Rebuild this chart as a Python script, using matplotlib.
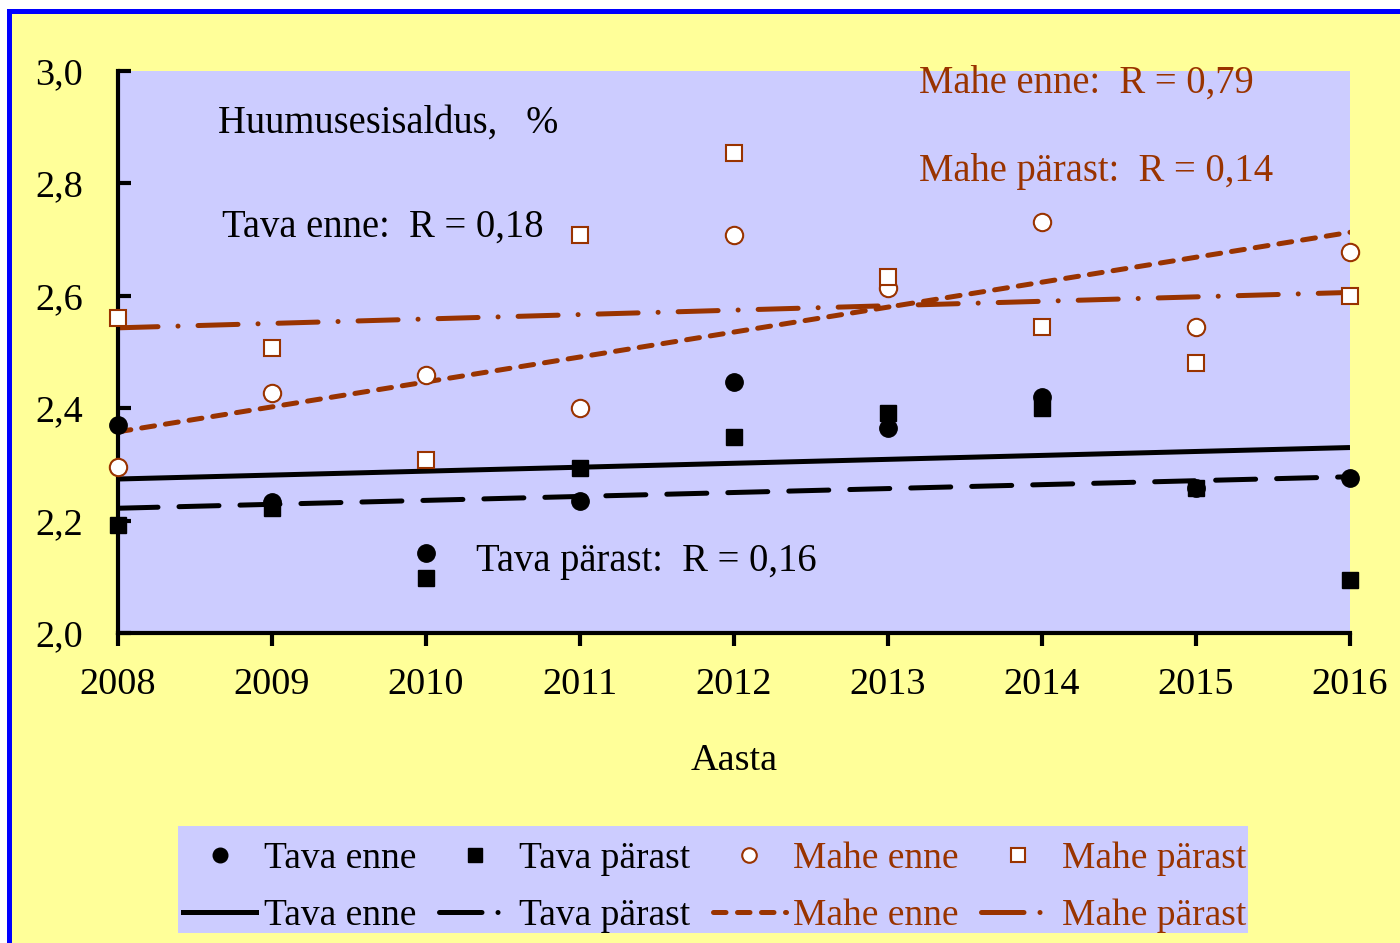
"""Huumusesisaldus (%) 2008-2016: tava vs mahe, enne / pärast, with linear trends."""

import matplotlib.pyplot as plt
from matplotlib.lines import Line2D
from matplotlib.patches import Rectangle

plt.rcParams["font.family"] = ["Liberation Serif", "DejaVu Serif"]

years = [2008, 2009, 2010, 2011, 2012, 2013, 2014, 2015, 2016]

tava_enne = [2.370, 2.233, 2.142, 2.235, 2.447, 2.365, 2.420, 2.258, 2.276]
tava_parast = [2.192, 2.222, 2.098, 2.294, 2.349, 2.391, 2.400, 2.258, 2.094]
mahe_enne = [2.295, 2.427, 2.459, 2.400, 2.708, 2.614, 2.731, 2.545, 2.678]
mahe_parast = [2.560, 2.507, 2.308, 2.708, 2.854, 2.633, 2.545, 2.480, 2.600]

# trend lines at 2008 and 2016
trend_x = [2008, 2016]
trend_tava_enne = [2.274, 2.330]
trend_tava_parast = [2.222, 2.278]
trend_mahe_enne = [2.358, 2.713]
trend_mahe_parast = [2.543, 2.606]

RUST = "#993300"
YELLOW = "#FFFF99"
LAVENDER = "#CCCCFF"

fig = plt.figure(figsize=(14, 9.43), dpi=100)
fig.patch.set_facecolor("white")
W, H = 1400, 943
fig.add_artist(Rectangle((7 / W, 0), 1, 1 - 9 / H, transform=fig.transFigure,
                         facecolor="#0000FF", edgecolor="none", zorder=-3))
fig.add_artist(Rectangle((12 / W, 0), 1, 1 - 14 / H, transform=fig.transFigure,
                         facecolor=YELLOW, edgecolor="none", zorder=-2))
# legend box
fig.add_artist(Rectangle((178 / W, 1 - 933 / H), (1248 - 178) / W, (933 - 826) / H,
                         transform=fig.transFigure, facecolor=LAVENDER,
                         edgecolor="none", zorder=-1))

ax = fig.add_axes([118 / W, 1 - 633 / H, (1350 - 118) / W, (633 - 71) / H])
ax.set_facecolor(LAVENDER)
ax.set_xlim(2008, 2016)
ax.set_ylim(2.0, 3.0)

lw = 3.6
ax.plot(trend_x, trend_tava_enne, color="black", lw=lw, solid_capstyle="butt")
ax.plot(trend_x, trend_tava_parast, color="black", lw=lw,
        dashes=(8.0, 4.2), dash_capstyle="round")
ax.plot(trend_x, trend_mahe_enne, color=RUST, lw=lw,
        dashes=(2.6, 2.2), dash_capstyle="round")
ax.plot(trend_x, trend_mahe_parast, color=RUST, lw=lw,
        dashes=(8.0, 4.0, 0.01, 4.0), dash_capstyle="round")

ms = 12.5
ax.plot(years, tava_enne, "o", color="black", ms=ms, clip_on=False, zorder=5)
ax.plot(years, tava_parast, "s", color="black", ms=ms - 0.5, clip_on=False, zorder=5)
ax.plot(years, mahe_enne, "o", mfc="white", mec=RUST, mew=1.5, ms=ms,
        clip_on=False, zorder=5)
ax.plot(years, mahe_parast, "s", mfc="white", mec=RUST, mew=1.5, ms=ms - 0.5,
        clip_on=False, zorder=5)

for side in ("top", "right"):
    ax.spines[side].set_visible(False)
for side in ("left", "bottom"):
    ax.spines[side].set_linewidth(3.0)

ax.set_xticks(years)
ax.set_xticklabels([str(y) for y in years])
ax.set_yticks([2.0, 2.2, 2.4, 2.6, 2.8, 3.0])
ax.set_yticklabels(["2,0", "2,2", "2,4", "2,6", "2,8", "3,0"])
ax.tick_params(axis="x", direction="out", length=9, width=3, pad=16,
               labelsize=27.5)
ax.tick_params(axis="y", direction="in", length=9, width=3, pad=25,
               labelsize=27.5)
ax.set_xlabel("Aasta", fontsize=27.5, labelpad=30)

txt = dict(fontsize=27.8, va="center", ha="left", clip_on=False)
ax.text(2008 + (919 - 118) / 154, 2.979, "Mahe enne:  R = 0,79", color=RUST, **txt)
ax.text(2008 + (919 - 118) / 154, 2.822, "Mahe pärast:  R = 0,14", color=RUST, **txt)
ax.text(2008 + (218 - 118) / 154, 2.907, "Huumusesisaldus,   %", color="black", **txt)
ax.text(2008 + (222 - 118) / 154, 2.723, "Tava enne:  R = 0,18", color="black", **txt)
ax.text(2008 + (476 - 118) / 154, 2.128, "Tava pärast:  R = 0,16", color="black", **txt)

handles = [
    Line2D([], [], ls="none", marker="o", color="black", ms=10.5),
    Line2D([], [], color="black", lw=lw),
    Line2D([], [], ls="none", marker="s", color="black", ms=10.5),
    Line2D([], [], color="black", lw=lw, dashes=(8.5, 3.2, 0.01, 20.0),
           dash_capstyle="round"),
    Line2D([], [], ls="none", marker="o", mfc="white", mec=RUST, mew=1.5, ms=10.5),
    Line2D([], [], color=RUST, lw=lw, dashes=(2.5, 2.3), dash_capstyle="round"),
    Line2D([], [], ls="none", marker="s", mfc="white", mec=RUST, mew=1.5, ms=10.5),
    Line2D([], [], color=RUST, lw=lw, dashes=(8.5, 3.2, 0.01, 20.0),
           dash_capstyle="round"),
]
labels = ["Tava enne", "Tava enne", "Tava pärast", "Tava pärast",
          "Mahe enne", "Mahe enne", "Mahe pärast", "Mahe pärast"]
leg = fig.legend(handles, labels, ncol=4, loc="upper left",
                 bbox_to_anchor=(183 / W, 1 - 842 / H), fontsize=27.0,
                 frameon=False, borderpad=0,
                 handlelength=1.95, handletextpad=0.2, columnspacing=0.6,
                 labelspacing=0.58, borderaxespad=0)
for t in leg.get_texts():
    if t.get_text().startswith("Mahe"):
        t.set_color(RUST)

fig.savefig("out.png", dpi=100, facecolor=fig.get_facecolor())
